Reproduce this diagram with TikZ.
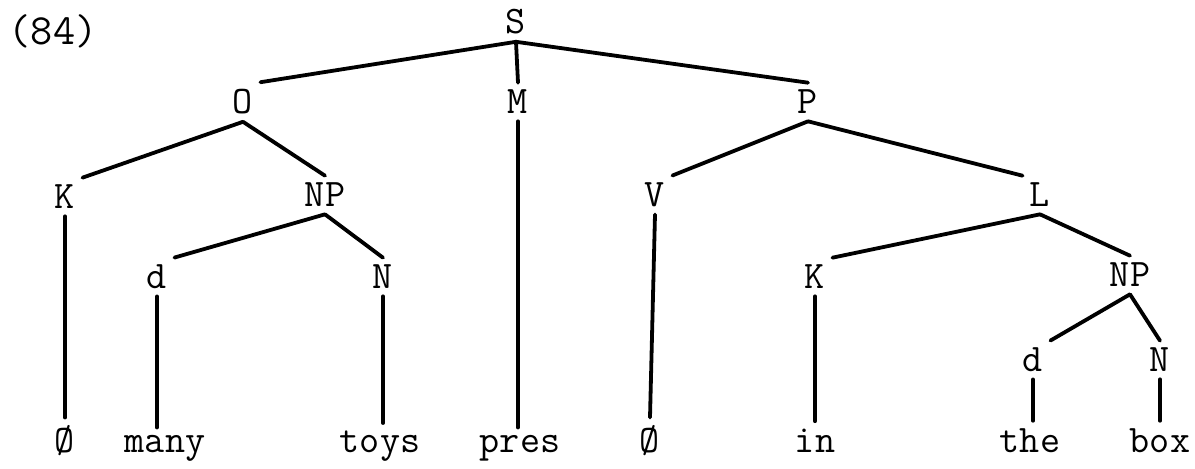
\documentclass[tikz,border=0pt]{standalone}
\usepackage{fontspec}
\begin{document}
\begin{tikzpicture}[x=0.5pt,y=-0.5pt,
  lab/.style={font=\ttfamily\fontsize{19.5}{22}\selectfont, inner sep=3.5pt},
  word/.style={font=\ttfamily\fontsize{19.5}{22}\selectfont, inner sep=3.5pt, anchor=base},
  edge/.style={line width=1.9pt, line cap=round}]
\useasboundingbox (0,0) rectangle (1195,468);
% numbering
\node[lab, font=\ttfamily\fontsize{21.5}{24}\selectfont] (num) at (53,31) {(84)};
% tree labels
\node[lab] (S)   at (516,22)  {S};
\node[lab] (O)   at (243,102) {O};
\node[lab] (M)   at (518,102) {M};
\node[lab] (P)   at (808,102) {P};
\node[lab] (K1)  at (65,197)  {K};
\node[lab] (NP1) at (325,195) {NP};
\node[lab] (V)   at (655,195) {V};
\node[lab] (L)   at (1040,195) {L};
\node[lab] (d1)  at (157,277) {d};
\node[lab] (N1)  at (383,277) {N};
\node[lab] (K2)  at (815,277) {K};
\node[lab] (NP2) at (1130,275) {NP};
\node[lab] (d2)  at (1033,360) {d};
\node[lab] (N2)  at (1160,360) {N};
% words
\node[word] (w1) at (65,452)   {Ø};
\node[word] (w2) at (165,452)  {many};
\node[word] (w3) at (380,452)  {toys};
\node[word] (w4) at (520,452)  {pres};
\node[word] (w5) at (650,452)  {Ø};
\node[word] (w6) at (815,452)  {in};
\node[word] (w7) at (1030,452) {the};
\node[word] (w8) at (1160,452) {box};
% branches
\draw[edge] (S.south) -- (O.north east);
\draw[edge] (S.south) -- (M.north);
\draw[edge] (S.south) -- (P.north);
\draw[edge] (O.south) -- (K1.north east);
\draw[edge] (O.south) -- (NP1.north);
\draw[edge] (P.south) -- (V.north east);
\draw[edge] (P.south) -- (L.north west);
\draw[edge] (NP1.south) -- (d1.north east);
\draw[edge] (NP1.south) -- (N1.north);
\draw[edge] (L.south) -- (K2.north east);
\draw[edge] (L.south) -- (NP2.north);
\draw[edge] (NP2.south) -- (d2.north east);
\draw[edge] (NP2.south) -- (N2.north);
% unary lines to words
\draw[edge] (K1.south) -- (w1.north);
\draw[edge] (d1.south) -- (w2.north -| d1.south);
\draw[edge] (N1.south) -- (w3.north -| N1.south);
\draw[edge] (M.south) -- (w4.north -| M.south);
\draw[edge] (V.south) -- (w5.north);
\draw[edge] (K2.south) -- (w6.north);
\draw[edge] (d2.south) -- (w7.north -| d2.south);
\draw[edge] (N2.south) -- (w8.north);
\end{tikzpicture}
\end{document}
